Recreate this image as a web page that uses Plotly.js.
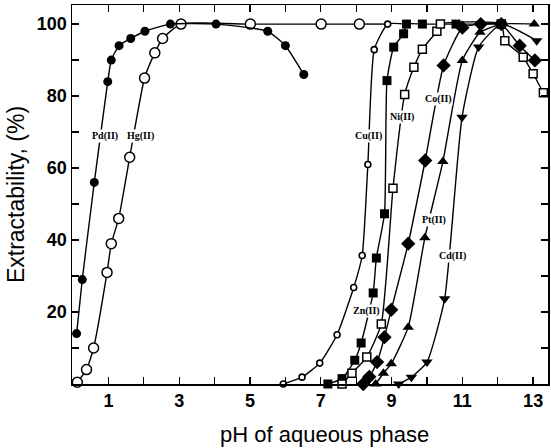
<!DOCTYPE html>
<html>
<head>
<meta charset="utf-8">
<script src="https://cdn.plot.ly/plotly-3.0.1.min.js"></script>
<style>html,body{margin:0;padding:0;background:#fff;}#chart{width:551px;height:448px;}</style>
</head>
<body>
<div id="chart"></div>
<script>
// pH values and extractability (%)
const pdPH = [0.1, 0.26, 0.6, 0.98, 1.08, 1.3, 1.63, 2.03, 2.75, 4.04, 5.5, 6.0, 6.52];
const pdE  = [14, 29, 56, 84, 90, 94, 96, 98, 100, 100, 98, 94, 86];

const hgPH = [0.12, 0.38, 0.58, 0.96, 1.08, 1.29, 1.6, 2.02, 2.31, 2.53, 3.05, 5.01, 7.01, 8.09];
const hgE  = [0.5, 4, 10, 31, 39, 46, 63, 85, 92, 96, 100, 100, 100, 100];
// plateau line joining the last Hg point to the Cu plateau (no marker)
const hgTailPH = [8.09, 8.89];
const hgTailE  = [100, 100];

const cuPH = [5.94, 6.47, 6.97, 7.46, 7.93, 8.17, 8.33, 8.51, 8.89, 9.42];
const cuE  = [0, 1.9, 5.8, 13.7, 26.8, 35.7, 61, 92.9, 100, 100];

const niPH = [7.2, 7.6, 7.96, 8.14, 8.48, 8.57, 8.8, 8.87, 9.06, 9.34, 9.42, 9.87, 10.82, 12.1];
const niE  = [0, 1.5, 6.6, 11.4, 25.3, 35, 47.3, 84.3, 93.6, 97.3, 100, 100, 100, 100];

const coPH = [7.6, 7.88, 8.3, 8.71, 9.04, 9.37, 9.63, 9.87, 10.28, 10.38, 12.1, 12.2, 12.72, 13.0, 13.29];
const coE  = [0, 3, 7.5, 16.7, 54.4, 80.4, 88, 93, 98, 100, 100, 95.4, 90.8, 86.2, 80.9];

const znPH = [8.2, 8.37, 8.59, 8.8, 8.99, 9.47, 9.95, 10.47, 11.0, 11.52, 12.1, 12.62, 13.05];
const znE  = [0, 2, 6.1, 13, 20.6, 39, 62.1, 88.5, 99, 100, 100, 94, 89.9];

const ptPH = [8.55, 8.77, 8.99, 9.47, 9.94, 10.45, 11.0, 11.5, 12.1, 13.03];
const ptE  = [0, 3, 5.6, 15.8, 40.6, 61.8, 89.9, 97.7, 100, 100];

const cdPH = [9.2, 9.56, 10.0, 10.5, 10.99, 11.46, 12.1, 13.1];
const cdE  = [0, 1.9, 6.1, 23.7, 74.1, 93.6, 100, 95.4];

// metal labels: text, pH, extractability
const labelText = ['Pd(II)', 'Hg(II)', 'Cu(II)', 'Ni(II)', 'Co(II)', 'Zn(II)', 'Pt(II)', 'Cd(II)'];
const labelPH   = [0.89, 1.9, 8.34, 9.3, 10.32, 8.28, 10.2, 10.71];
const labelE    = [68.8, 68.8, 68.8, 74.1, 79.2, 20.4, 45.7, 35.5];

const yTickVals = [10, 20, 30, 40, 50, 60, 70, 80, 90, 100];
const yTickText = ['', '20', '', '40', '', '60', '', '80', '', '100'];
const yMajorVals = [20, 40, 60, 80, 100];
const xTickVals = [1, 2, 3, 4, 5, 6, 7, 8, 9, 10, 11, 12, 13];
const xTickText = ['1', '', '3', '', '5', '', '7', '', '9', '', '11', '', '13'];

function tr(x, y, symbol, size, fill, lw) {
  return {
    x: x, y: y, type: 'scatter', mode: 'lines+markers',
    line: {color: '#000', width: 1.4, shape: 'spline', smoothing: 0.5},
    marker: {symbol: symbol, size: size, color: fill, line: {color: '#000', width: lw}},
    cliponaxis: false, showlegend: false, hoverinfo: 'skip'
  };
}

const data = [
  {x: hgTailPH, y: hgTailE, type: 'scatter', mode: 'lines', line: {color: '#000', width: 1.4},
   showlegend: false, hoverinfo: 'skip'},
  tr(hgPH, hgE, 'circle', 10, '#fff', 1.5),
  tr(pdPH, pdE, 'circle', 9, '#000', 0),
  tr(cuPH, cuE, 'circle', 6, '#fff', 1.6),
  tr(niPH, niE, 'square', 9, '#000', 0),
  tr(coPH, coE, 'square', 8, '#fff', 1.5),
  tr(znPH, znE, 'diamond', 11, '#000', 0),
  tr(ptPH, ptE, 'triangle-up', 10, '#000', 0),
  tr(cdPH, cdE, 'triangle-down', 10, '#000', 0)
];

const annotations = labelText.map((t, i) => ({
  x: labelPH[i], y: labelE[i], xref: 'x', yref: 'y', text: t, showarrow: false,
  font: {family: 'Liberation Serif, serif', size: 10, color: '#000', weight: 'bold'},
  bgcolor: '#fff', borderpad: 0
}));
annotations.push({
  xref: 'paper', yref: 'paper', x: 0.5315, y: -0.134, xanchor: 'center', yanchor: 'middle',
  text: 'pH of aqueous phase', showarrow: false,
  font: {family: 'Liberation Sans, Arial, sans-serif', size: 22, color: '#000'}
});

const layout = {
  width: 551, height: 448,
  margin: {l: 72, r: 3, t: 5, b: 64},
  paper_bgcolor: '#fff', plot_bgcolor: '#fff',
  font: {family: 'Liberation Sans, Arial, sans-serif', color: '#000'},
  xaxis: {
    range: [-0.03, 13.42], showgrid: false, zeroline: false,
    showline: true, linecolor: '#000', linewidth: 1.5, mirror: 'ticks',
    ticks: 'inside', ticklen: 7, tickwidth: 1.3, tickcolor: '#000',
    tickvals: xTickVals, ticktext: xTickText,
    tickfont: {size: 18, color: '#000', weight: 'bold'}
  },
  yaxis: {
    range: [0, 105.3], showgrid: false, zeroline: false,
    showline: true, linecolor: '#000', linewidth: 1.5, mirror: 'ticks',
    ticks: 'inside', ticklen: 7, tickwidth: 1.3, tickcolor: '#000',
    tickvals: yTickVals, ticktext: yTickText,
    tickfont: {size: 18, color: '#000', weight: 'bold'},
    title: {text: 'Extractability, (%)', font: {size: 23, color: '#000'}, standoff: 6}
  },
  yaxis2: {
    overlaying: 'y', side: 'left', range: [0, 105.3], showgrid: false, zeroline: false,
    showline: false, ticks: 'outside', ticklen: 4, tickwidth: 1.3, tickcolor: '#000',
    tickvals: yMajorVals, showticklabels: false
  },
  annotations: annotations
};

Plotly.newPlot('chart', data, layout, {staticPlot: true, displayModeBar: false});
</script>
</body>
</html>
